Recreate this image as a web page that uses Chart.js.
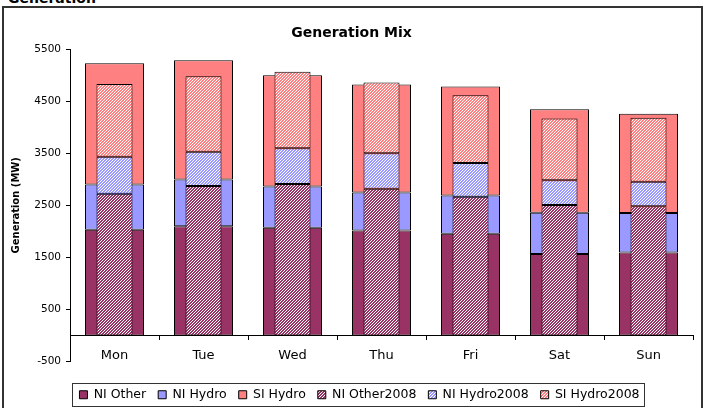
<!DOCTYPE html>
<html>
<head>
<meta charset="utf-8">
<script src="https://cdn.jsdelivr.net/npm/chart.js@4"></script>
<style>
  html, body { margin: 0; padding: 0; background: #fff; overflow: hidden; }
  body { width: 704px; height: 408px; position: relative; }
  #frame { position: absolute; left: 2px; top: 6px; width: 697px; height: 420px; border: 2px solid #333; }
  #caption { position: absolute; left: 8px; top: -9px; font: bold 14px/14px "DejaVu Sans", sans-serif; color: #000; }
  #wrap { position: absolute; left: 0; top: 0; width: 704px; height: 420px; }
</style>
</head>
<body>
<div id="frame"></div>
<div id="caption">Generation</div>
<div id="wrap"><canvas id="c" width="704" height="420"></canvas></div>
<script>
// ── Data (MW) ─────────────────────────────────────────────────────────────────
const days = ['Mon', 'Tue', 'Wed', 'Thu', 'Fri', 'Sat', 'Sun'];
const yTicks = [-500, 500, 1500, 2500, 3500, 4500, 5500];

const niOther = [2030, 2095, 2070, 2015, 1955, 1565, 1595];
const niHydro = [870, 900, 790, 730, 730, 790, 755];
const siHydro = [2325, 2290, 2135, 2075, 2095, 1990, 1905];

const niOther2008 = [2720, 2870, 2910, 2815, 2665, 2505, 2480];
const niHydro2008 = [710, 655, 685, 685, 645, 475, 470];
const siHydro2008 = [1400, 1450, 1470, 1355, 1300, 1185, 1230];

// ── Styling helpers ───────────────────────────────────────────────────────────
const C_OTHER = '#993366', C_NIH = '#9999FF', C_SIH = '#FF8080';

function hatch(color) {
  const n = 3;
  const tile = document.createElement('canvas');
  tile.width = n; tile.height = n;
  const g = tile.getContext('2d');
  g.fillStyle = '#fff';
  g.fillRect(0, 0, n, n);
  g.fillStyle = color;
  for (let x = 0; x < n; x++)
    for (let y = 0; y < n; y++)
      if ((x + y) % n < 2) g.fillRect(x, y, 1, 1);
  return g.createPattern(tile, 'repeat');
}

function wide(label, data, color) {
  return { label, data, backgroundColor: color, borderColor: '#000', borderWidth: 1,
           borderSkipped: false, stack: 'now', order: 1, grouped: false,
           barPercentage: 0.663, categoryPercentage: 1 };
}
function narrow(label, data, color) {
  return { label, data, backgroundColor: hatch(color), borderColor: '#000', borderWidth: 1,
           borderSkipped: false, stack: 'y2008', order: 0, grouped: false,
           barPercentage: 0.405, categoryPercentage: 1 };
}

// legend frame + small horizontal nudge of the legend row
const legendFrame = {
  id: 'legendFrame',
  afterLayout(chart) {
    chart.legend.left += 8;
    chart.legend.right += 8;
  },
  afterDraw(chart) {
    const hb = chart.legend.legendHitBoxes;
    if (!hb || !hb.length) return;
    const first = hb[0], last = hb[hb.length - 1];
    const cy = first.top + first.height / 2;
    const l = Math.round(first.left - 7) + 0.5;
    const r = Math.round(last.left + last.width + 4) + 0.5;
    const t = Math.round(cy - 11.5) + 0.5;
    const ctx = chart.ctx;
    ctx.save();
    ctx.strokeStyle = '#333';
    ctx.lineWidth = 1;
    ctx.strokeRect(l, t, r - l, 23);
    ctx.restore();
  }
};

Chart.defaults.font.family = '"DejaVu Sans", sans-serif';
Chart.defaults.color = '#000';

new Chart(document.getElementById('c'), {
  type: 'bar',
  data: {
    labels: days,
    datasets: [
      wide('NI Other', niOther, C_OTHER),
      wide('NI Hydro', niHydro, C_NIH),
      wide('SI Hydro', siHydro, C_SIH),
      narrow('NI Other2008', niOther2008, C_OTHER),
      narrow('NI Hydro2008', niHydro2008, C_NIH),
      narrow('SI Hydro2008', siHydro2008, C_SIH),
    ]
  },
  options: {
    responsive: false,
    animation: false,
    layout: { padding: { top: 10, left: 10, right: 11, bottom: 9 } },
    plugins: {
      title: { display: true, text: 'Generation Mix', font: { size: 14, weight: 'bold' },
               padding: { top: 14.6, bottom: 7.6 } },
      legend: {
        position: 'bottom',
        labels: { boxWidth: 8, boxHeight: 8, padding: 12, font: { size: 12.5 },
                  sort: (a, b) => a.datasetIndex - b.datasetIndex }
      },
      tooltip: { enabled: false }
    },
    scales: {
      x: {
        type: 'category', position: { y: 0 }, offset: true,
        grid: { display: true, drawOnChartArea: false, offset: true, tickLength: 4, color: '#000' },
        border: { display: true, color: '#000' },
        ticks: { font: { size: 13 }, padding: 8 }
      },
      x2: {
        type: 'category', position: 'bottom',
        grid: { display: false }, border: { display: false }, ticks: { display: false },
        afterFit: s => { s.height = 15; }
      },
      y: {
        stacked: true, min: yTicks[0], max: yTicks[yTicks.length - 1],
        afterBuildTicks: s => { s.ticks = yTicks.map(v => ({ value: v })); },
        ticks: { font: { size: 10.5 }, padding: 5, callback: v => String(v) },
        grid: { drawOnChartArea: false, tickLength: 4, color: '#000' },
        border: { display: true, color: '#000' },
        title: { display: true, text: 'Generation (MW)', font: { size: 10, weight: 'bold' },
                 padding: { top: 0, bottom: 0 } },
        afterFit: s => { s.width = 60; }
      }
    }
  },
  plugins: [legendFrame]
});
</script>
</body>
</html>
